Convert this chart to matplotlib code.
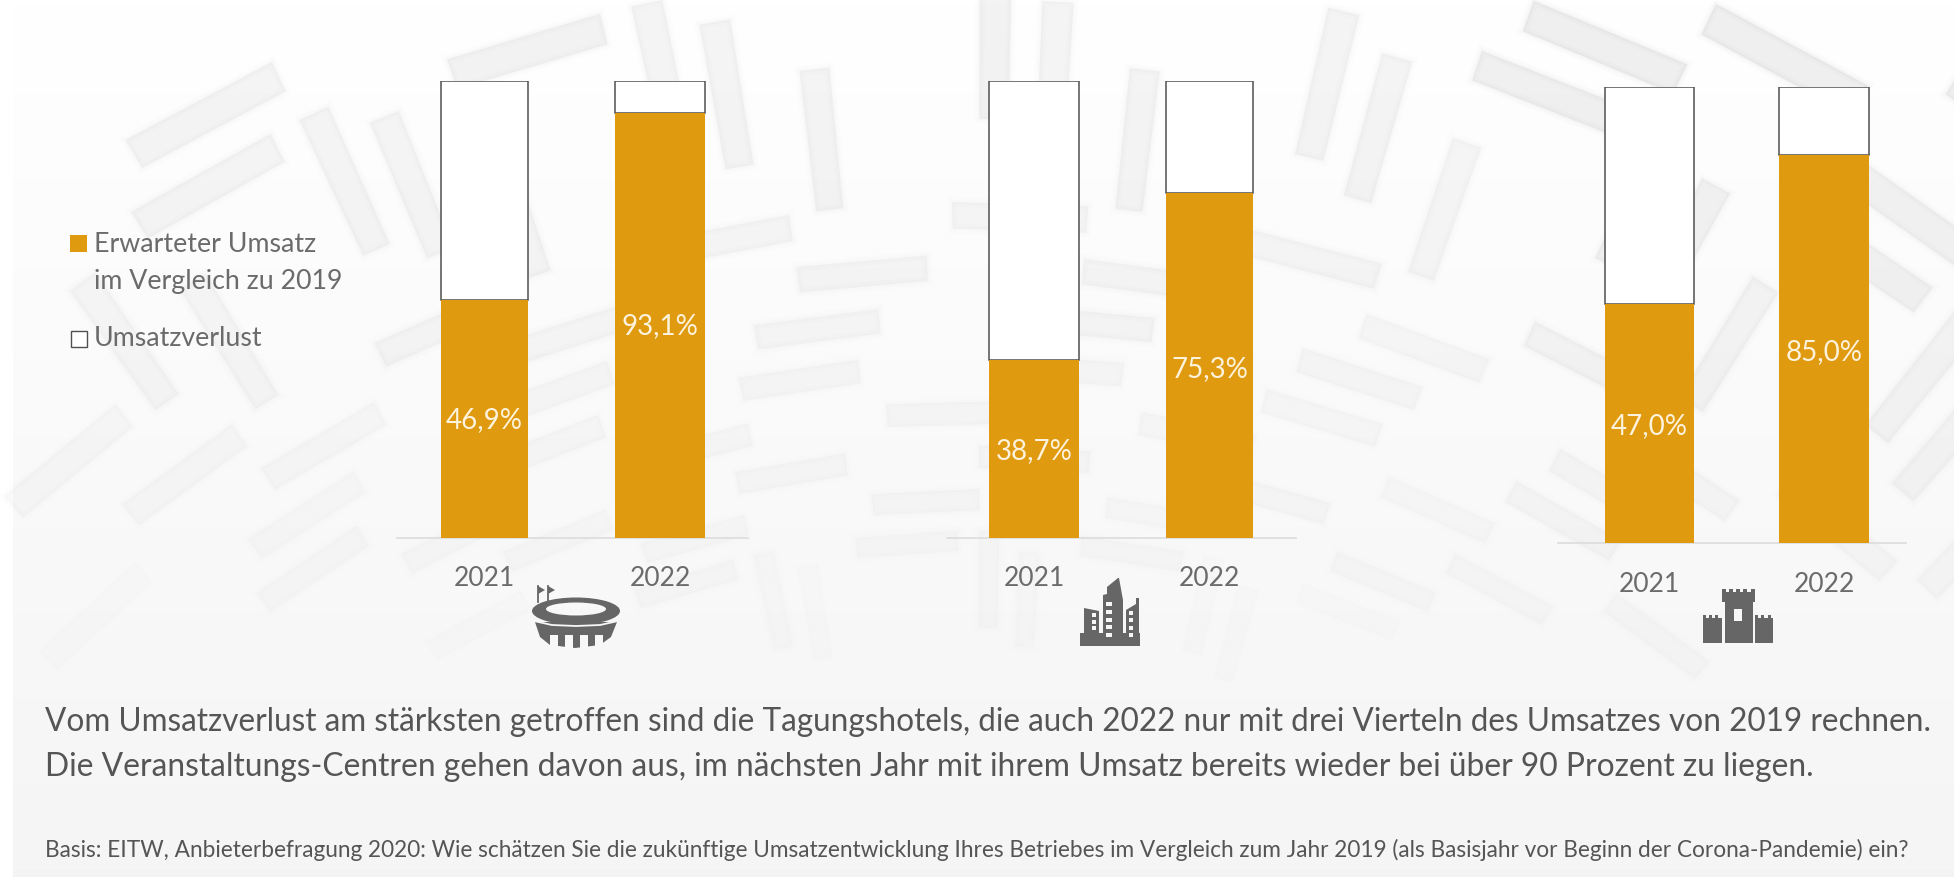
import matplotlib
matplotlib.use('Agg')
import matplotlib.pyplot as plt
import numpy as np
from matplotlib.patches import Ellipse, Polygon, Rectangle

plt.rcParams['font.family'] = ['Lato', 'DejaVu Sans']

W, H = 1954, 877

# bars as drawn in the reference; the 2021 bars of panels 1 and 3 are taller than their labels say
years = ['2021', '2022']
drawn_umsatz = [[52.0, 93.1], [38.9, 75.4], [52.4, 85.0]]
value_labels = [['46,9%', '93,1%'], ['38,7%', '75,3%'], ['47,0%', '85,0%']]
label_heights = [[25.9, 46.3], [19.0, 37.0], [25.7, 41.8]]

# one panel per venue type: left edge of each bar, widths, baseline, top (pixels)
bar_lefts = [[441, 615], [989, 1166], [1605, 1779]]
bar_widths = [[87, 90], [90, 87], [89, 90]]
baselines = [538, 538, 543]
tops = [81, 81, 87]
line_spans = [(397, 748), (947, 1296), (1558, 1906)]

orange = '#E09A10'
grey_text = '#6b6b6b'
paper = '#f7f7f7'

fig = plt.figure(figsize=(W / 100, H / 100), dpi=100, facecolor='white')

# background: near white on top, light grey at the bottom
bg = fig.add_axes([0, 0, 1, 1])
shade = np.clip(np.linspace(254, 244, 256), 0, 255)[:, None] / 255
bg.imshow(shade, cmap='gray', vmin=0, vmax=1, extent=(13, W, H, 6), aspect='auto', zorder=0)
bg.set_xlim(0, W)
bg.set_ylim(H, 0)
bg.axis('off')

# faint maze, laid out on a fan around a point below the picture
cx, cy = 977, 1560
radii = 640 * 1.02 ** np.arange(0, 66)
angles = np.radians(np.arange(-62, 62, 1.15))


def maze_xy(r, t):
    return cx + r * np.sin(t), cy - r * np.cos(t)


def maze_block(i0, i1, j0, j1):
    pts = [maze_xy(radii[i0], angles[j0]), maze_xy(radii[i1], angles[j0]),
           maze_xy(radii[i1], angles[j1]), maze_xy(radii[i0], angles[j1])]
    xm = np.mean([p[0] for p in pts])
    ym = np.mean([p[1] for p in pts])
    if ym > 640 or ym < 6 or xm < 13:
        return
    k = np.clip((640 - ym) / 640, 0, 1) * 0.028 + 0.004
    if xm > 1500:
        k *= 1.5
    for lw, a in [(7, 0.35), (3, 0.6), (0, 1.0)]:
        bg.add_patch(Polygon(pts, fc='#555555', ec='#555555', lw=lw, alpha=k * a, zorder=1))


taken = set()
for i in range(0, len(radii) - 7):
    for j in range(0, len(angles) - 7):
        code = (i * 3 + j * 5 + i * j) % 11
        if code == 0:
            cells = {(a, j) for a in range(i - 1, i + 6)} | {(a, j + 1) for a in range(i - 1, i + 6)}
            if not cells & taken:
                taken |= cells
                maze_block(i, i + 5, j, j + 1)
        elif code == 5:
            cells = {(i, b) for b in range(j - 1, j + 6)} | {(i + 1, b) for b in range(j - 1, j + 6)}
            if not cells & taken:
                taken |= cells
                maze_block(i, i + 1, j, j + 5)

# bars
for p in range(3):
    ax = fig.add_axes([0, 1 - baselines[p] / H, 1, (baselines[p] - tops[p]) / H], facecolor='none')
    ax.set_xlim(0, W)
    ax.set_ylim(0, 100)
    ax.axis('off')
    for i in range(2):
        val = drawn_umsatz[p][i]
        x = bar_lefts[p][i]
        w = bar_widths[p][i]
        ax.bar(x, val, w, align='edge', color=orange, zorder=3)
        ax.bar(x, 100 - val, w, bottom=val, align='edge', fc='white', ec='#505050', lw=1.1, zorder=2)
        ax.text(x + w / 2, label_heights[p][i], value_labels[p][i], color='#fdf3dc', fontsize=20,
                ha='center', va='center', zorder=4)
        bg.text(x + w / 2, baselines[p] + 41, years[i], color=grey_text, fontsize=19,
                ha='center', va='center', zorder=4)
    x0, x1 = line_spans[p]
    bg.plot([x0, x1], [baselines[p], baselines[p]], color='#dcdcdc', lw=1.2, zorder=2)

# legend
bg.add_patch(Rectangle((70, 235), 17, 17, fc=orange, ec='none', zorder=4))
bg.add_patch(Rectangle((71, 331), 16, 16, fc='white', ec='#505050', lw=1, zorder=4))
bg.text(94, 244, 'Erwarteter Umsatz', color=grey_text, fontsize=19.3, va='center', zorder=4)
bg.text(94, 281, 'im Vergleich zu 2019', color=grey_text, fontsize=19.3, va='center', zorder=4)
bg.text(94, 339, 'Umsatzverlust', color=grey_text, fontsize=19.3, va='center', zorder=4)

# stadium icon
ic = '#666666'
bg.add_patch(Polygon([(535, 622), (617, 622), (611, 637), (600, 645), (575, 648), (550, 645), (540, 637)],
                     fc=ic, ec='none', zorder=4))
bg.add_patch(Ellipse((576, 611), 88, 27, fc=ic, ec='none', zorder=4))
bg.add_patch(Ellipse((576, 609), 60, 13, fc=paper, ec='none', zorder=5))
bg.plot([534, 552, 576, 600, 618], [621, 625, 626, 625, 621], color=paper, lw=1.3, zorder=5)
for gx in [550, 565, 580, 595]:
    bg.add_patch(Rectangle((gx, 635), 8, 15, fc=paper, ec='none', zorder=5))
for fx in [538, 548]:
    bg.plot([fx, fx], [586, 602], color=ic, lw=1.3, zorder=4)
    bg.add_patch(Polygon([(fx, 586), (fx + 7, 590), (fx, 594)], fc=ic, ec='none', zorder=4))

# city icon
bg.add_patch(Rectangle((1080, 633), 60, 13, fc=ic, ec='none', zorder=4))
bg.add_patch(Polygon([(1084, 633), (1084, 608), (1099, 611), (1099, 633)], fc=ic, ec='none', zorder=4))
bg.add_patch(Polygon([(1103, 633), (1103, 595), (1107, 594), (1107, 587), (1118, 578), (1119, 578),
                      (1123, 600), (1123, 633)], fc=ic, ec='none', zorder=4))
bg.add_patch(Polygon([(1126, 633), (1126, 610), (1136, 604), (1136, 598), (1139, 598), (1139, 633)],
                     fc=ic, ec='none', zorder=4))
for wx, ww, wys in [(1092, 4, [615, 622, 628]), (1106, 6, [604, 612, 620, 627, 635]),
                    (1129, 4, [613, 620, 628, 635])]:
    for wy in wys:
        bg.add_patch(Rectangle((wx, wy - 2), ww, 3.5, fc=paper, ec='none', zorder=5))

# castle icon
bg.add_patch(Rectangle((1725, 598), 28, 45, fc=ic, ec='none', zorder=4))
bg.add_patch(Rectangle((1722, 592), 33, 10, fc=ic, ec='none', zorder=4))
bg.add_patch(Rectangle((1703, 618), 19, 25, fc=ic, ec='none', zorder=4))
bg.add_patch(Rectangle((1755, 618), 18, 25, fc=ic, ec='none', zorder=4))
for mx in [1722, 1729, 1736, 1743, 1751]:
    bg.add_patch(Rectangle((mx, 589), 4, 4, fc=ic, ec='none', zorder=4))
for mx in [1703, 1709, 1715, 1755, 1761, 1768]:
    bg.add_patch(Rectangle((mx, 615), 3, 4, fc=ic, ec='none', zorder=4))
bg.add_patch(Rectangle((1734, 609), 8, 12, fc=paper, ec='none', zorder=5))

# text below
bg.text(45, 722, 'Vom Umsatzverlust am stärksten getroffen sind die Tagungshotels, die auch 2022 nur mit drei Vierteln des Umsatzes von 2019 rechnen.',
        color='#555555', fontsize=22.72, va='center', zorder=4)
bg.text(45, 767, 'Die Veranstaltungs-Centren gehen davon aus, im nächsten Jahr mit ihrem Umsatz bereits wieder bei über 90 Prozent zu liegen.',
        color='#555555', fontsize=22.85, va='center', zorder=4)
bg.text(45, 850, 'Basis: EITW, Anbieterbefragung 2020: Wie schätzen Sie die zukünftige Umsatzentwicklung Ihres Betriebes im Vergleich zum Jahr 2019 (als Basisjahr vor Beginn der Corona-Pandemie) ein?',
        color='#555555', fontsize=16.27, va='center', zorder=4)

fig.savefig('out.png', dpi=100)
